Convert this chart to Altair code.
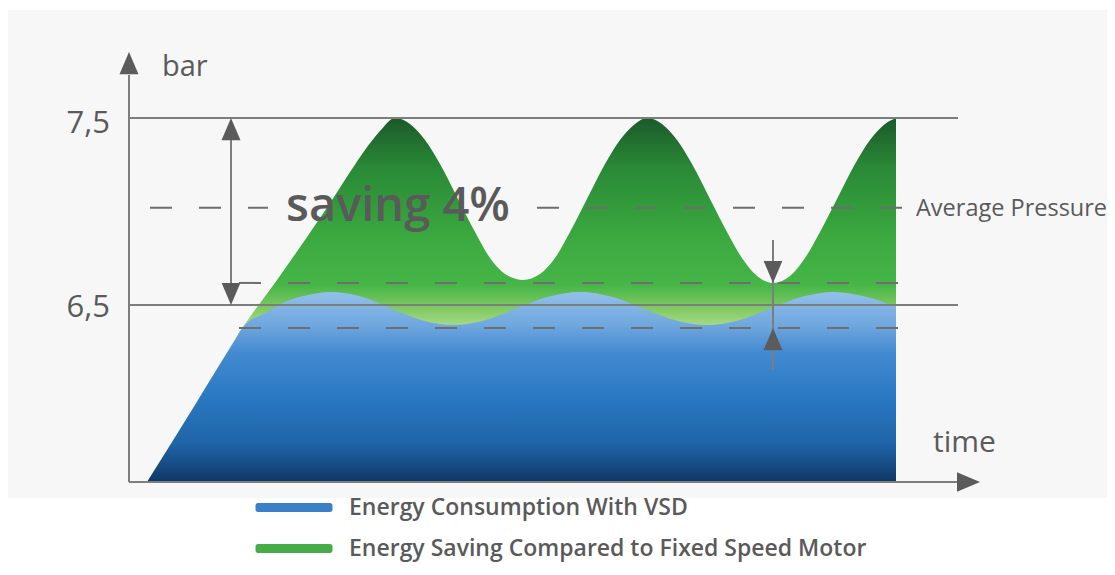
import altair as alt
import pandas as pd

# ---------------- data (time units, bar) ----------------
green_t = [1.8, 6.6, 11.4, 14.8, 17.6, 20.3, 22.1, 23.6, 25.1, 26.6,
           28.1, 29.6, 31.1, 32.9, 34.6, 36.1, 37.6, 39.4,
           41.1, 42.6, 44.1, 45.8, 47.6, 49.1, 50.6, 51.8,
           53.3, 54.8, 56.3, 58.1, 59.8, 61.3, 62.8, 64.4,
           66.1, 67.6, 69.1, 70.8, 72.6, 74.1, 75.6, 76.7]
green_v = [5.553, 5.965, 6.382, 6.634, 6.848, 7.061, 7.211, 7.329, 7.430, 7.500,
           7.468, 7.382, 7.254, 7.067, 6.890, 6.751, 6.666, 6.634,
           6.666, 6.751, 6.890, 7.067, 7.254, 7.382, 7.468, 7.500,
           7.468, 7.382, 7.254, 7.067, 6.890, 6.751, 6.655, 6.618,
           6.655, 6.751, 6.890, 7.067, 7.254, 7.382, 7.468, 7.500]

blue_t = [1.8, 6.6, 9.0, 10.6, 11.4, 13.6, 15.6, 17.9, 20.1, 23.3, 26.2, 29.3, 32.4, 35.6, 38.7,
          41.9, 45.1, 48.3, 51.4, 54.6, 57.8, 61.0, 64.1, 67.3, 70.5, 73.7, 76.7]
blue_v = [5.553, 5.965, 6.175, 6.313, 6.382, 6.457, 6.516, 6.553, 6.570, 6.544, 6.481, 6.419, 6.393, 6.419, 6.481,
          6.544, 6.570, 6.544, 6.481, 6.419, 6.393, 6.419, 6.481, 6.544, 6.570, 6.544, 6.489]

base_v = 5.553          # time axis level
max_p = 7.5             # upper pressure limit
min_p = 6.5             # lower pressure limit
avg_p = 7.02            # average pressure
band_hi = 6.618         # VSD band upper
band_lo = 6.377         # VSD band lower

series_names = ["Energy Consumption With VSD", "Energy Saving Compared to Fixed Speed Motor"]
series_colors = ["#3a7fc7", "#45ad48"]

# ---------------- tables ----------------
green_df = pd.DataFrame({"t": green_t, "v": green_v, "base": base_v})
blue_df = pd.DataFrame({"t": blue_t, "v": blue_v, "base": base_v})

X = alt.Scale(domain=[-12.1, 97.8], nice=False, zero=False)
Y = alt.Scale(domain=[5.1203, 8.0882], nice=False, zero=False)

FONT = "Open Sans"
TXT = "#5a5a5a"
LINE = "#7d7d7d"

# background panel
bg_df = pd.DataFrame({"x1": [-12.1], "x2": [97.8], "y1": [8.078], "y2": [5.468]})
bg = alt.Chart(bg_df).mark_rect(color="#f7f7f7").encode(
    x=alt.X("x1:Q", scale=X, axis=None), x2="x2:Q",
    y=alt.Y("y1:Q", scale=Y, axis=None), y2="y2:Q")

# legend carrier (hidden behind the areas)
leg_df = pd.DataFrame({"series": series_names, "t": [40, 40], "v": [5.8, 5.8]})
legend_path = ("M-7.2,-0.9H7.2A0.5,0.5,0,0,1,7.7,-0.4V0.4A0.5,0.5,0,0,1,7.2,0.9"
               "H-7.2A0.5,0.5,0,0,1,-7.7,0.4V-0.4A0.5,0.5,0,0,1,-7.2,-0.9Z")
leg = alt.Chart(leg_df).mark_point(filled=True, size=4).encode(
    x=alt.X("t:Q", scale=X, axis=None),
    y=alt.Y("v:Q", scale=Y, axis=None),
    color=alt.Color("series:N",
                    scale=alt.Scale(domain=series_names, range=series_colors),
                    legend=alt.Legend(orient="none", legendX=274.5, legendY=488, title=None,
                                      symbolType=legend_path, symbolSize=100,
                                      symbolStrokeWidth=0, symbolOpacity=1,
                                      labelFont=FONT, labelFontSize=23, labelFontWeight=600,
                                      labelColor=TXT, labelOffset=43.5, rowPadding=17,
                                      padding=0, labelLimit=800)))

green_grad = alt.Gradient(
    gradient="linear", x1=0, x2=0, y1=0, y2=1,
    stops=[alt.GradientStop(color="#1b5a2a", offset=0),
           alt.GradientStop(color="#2a8a37", offset=0.14),
           alt.GradientStop(color="#3aa83f", offset=0.32),
           alt.GradientStop(color="#47b648", offset=0.46),
           alt.GradientStop(color="#86cc66", offset=0.53),
           alt.GradientStop(color="#bfe2a2", offset=0.6),
           alt.GradientStop(color="#bfe2a2", offset=1)])
blue_grad = alt.Gradient(
    gradient="linear", x1=0, x2=0, y1=0, y2=1,
    stops=[alt.GradientStop(color="#93c0ea", offset=0),
           alt.GradientStop(color="#6ea6de", offset=0.18),
           alt.GradientStop(color="#438ad1", offset=0.32),
           alt.GradientStop(color="#2a79c3", offset=0.55),
           alt.GradientStop(color="#1f64a8", offset=0.8),
           alt.GradientStop(color="#0f3766", offset=1)])

green = alt.Chart(green_df).mark_area(color=green_grad, interpolate="monotone").encode(
    x=alt.X("t:Q", scale=X, axis=None),
    y=alt.Y("v:Q", scale=Y, axis=None), y2="base:Q")
blue = alt.Chart(blue_df).mark_area(color=blue_grad, interpolate="monotone").encode(
    x=alt.X("t:Q", scale=X, axis=None),
    y=alt.Y("v:Q", scale=Y, axis=None), y2="base:Q")

# solid lines: axes, limits, arrow shafts
solid_df = pd.DataFrame({
    "x1": [0, 0, 0, 0, 10.2, 64.4],
    "x2": [0, 83.0, 82.9, 82.9, 10.2, 64.4],
    "y1": [base_v, base_v, max_p, min_p, max_p - 0.05, 6.848],
    "y2": [7.73, base_v, max_p, min_p, min_p + 0.05, 6.152]})
solid = alt.Chart(solid_df).mark_rule(color=LINE, strokeWidth=2).encode(
    x=alt.X("x1:Q", scale=X, axis=None), x2="x2:Q",
    y=alt.Y("y1:Q", scale=Y, axis=None), y2="y2:Q")

dash_df = pd.DataFrame({
    "x1": [2.1, 40.8, 11.0, 11.0],
    "x2": [13.9, 77.4, 77.4, 77.4],
    "y1": [avg_p, avg_p, band_hi, band_lo]})
dashed = alt.Chart(dash_df).mark_rule(color="#6e6e6e", strokeWidth=2, strokeDash=[22, 27]).encode(
    x=alt.X("x1:Q", scale=X, axis=None), x2="x2:Q",
    y=alt.Y("y1:Q", scale=Y, axis=None))

# arrow heads (tip positions)
up_df = pd.DataFrame({"t": [0, 10.2, 64.4], "v": [7.853, max_p, band_lo]})
down_df = pd.DataFrame({"t": [10.2, 64.4], "v": [min_p, band_hi]})
right_df = pd.DataFrame({"t": [85.1], "v": [base_v]})

def heads(df, path, size):
    return alt.Chart(df).mark_point(shape=path, size=size, filled=True, color="#5b5b5b", opacity=1).encode(
        x=alt.X("t:Q", scale=X, axis=None), y=alt.Y("v:Q", scale=Y, axis=None))

up = heads(up_df, "M0,0L0.85,2L-0.85,2Z", 500)
down = heads(down_df, "M0,0L0.85,-2L-0.85,-2Z", 484)
right = heads(right_df, "M0,0L-2,0.85L-2,-0.85Z", 529)

# texts
def label(txt, t, v, size, align="left", weight=500):
    d = pd.DataFrame({"txt": [txt], "t": [t], "v": [v]})
    return alt.Chart(d).mark_text(font=FONT, fontSize=size, color=TXT, align=align,
                                  fontWeight=weight, baseline="alphabetic").encode(
        x=alt.X("t:Q", scale=X, axis=None), y=alt.Y("v:Q", scale=Y, axis=None), text="txt:N")

texts = [
    label("7,5", -1.9, 7.420, 31, "right"),
    label("6,5", -1.9, 6.436, 31, "right"),
    label("bar", 3.3, 7.725, 29),
    label("time", 80.4, 5.714, 30),
    label("saving 4%", 15.7, 6.949, 47, weight=600),
    label("Average Pressure", 78.7, 6.976, 23.5),
]

chart = alt.layer(bg, leg, green, blue, solid, dashed, up, down, right, *texts).properties(
    width=1099, height=555, autosize=alt.AutoSizeParams(type="none"), padding=0,
    background="#ffffff"
).configure_view(stroke=None)

chart.save("out.html", embed_options={"renderer": "svg", "actions": False})
